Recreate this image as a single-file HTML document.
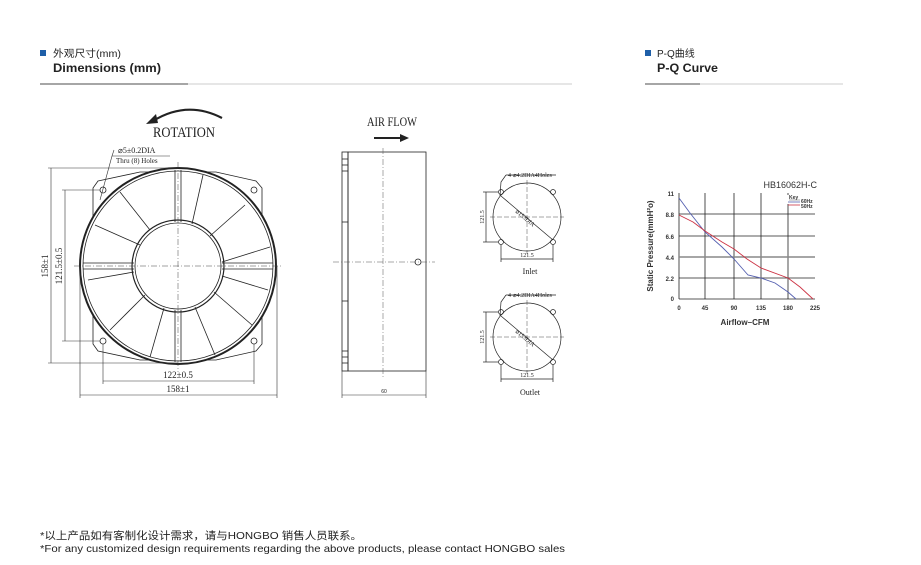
<!DOCTYPE html><html><head><meta charset="utf-8"><style>
html,body{margin:0;padding:0;background:#fff;width:921px;height:565px;overflow:hidden}
svg{display:block}
.s{font-family:"Liberation Serif",serif}
.a{font-family:"Liberation Sans","Noto Sans CJK SC",sans-serif}
</style></head><body>
<svg width="921" height="565" viewBox="0 0 921 565" xmlns="http://www.w3.org/2000/svg">
<!-- headers -->
<rect x="40" y="50" width="6" height="6" fill="#1f5fa8"/>
<text x="53" y="57" class="a" font-size="10" fill="#222" textLength="68" lengthAdjust="spacingAndGlyphs">外观尺寸(mm)</text>
<text x="53" y="72" class="a" font-size="12" font-weight="bold" fill="#222" textLength="108" lengthAdjust="spacingAndGlyphs">Dimensions (mm)</text>
<line x1="40" y1="84" x2="188" y2="84" stroke="#888" stroke-width="1.5"/>
<line x1="188" y1="84" x2="572" y2="84" stroke="#ddd" stroke-width="1.5"/>
<rect x="645" y="50" width="6" height="6" fill="#1f5fa8"/>
<text x="657" y="57" class="a" font-size="10" fill="#222">P-Q曲线</text>
<text x="657" y="72" class="a" font-size="12" font-weight="bold" fill="#222" textLength="61" lengthAdjust="spacingAndGlyphs">P-Q Curve</text>
<line x1="645" y1="84" x2="700" y2="84" stroke="#888" stroke-width="1.5"/>
<line x1="700" y1="84" x2="843" y2="84" stroke="#ddd" stroke-width="1.5"/>

<!-- front view -->
<g stroke="#222" fill="none" stroke-width="0.8">
<polygon points="98,181 140,172 216,172 256,181 262,188 262,344 256,351 216,360 140,360 98,351 93,344 93,188" fill="#fff"/>
<circle cx="178" cy="266" r="98" fill="#fff" stroke-width="2"/>
<circle cx="178" cy="266" r="95"/>
<circle cx="178" cy="266" r="46" stroke-width="1.2"/>
<circle cx="178" cy="266" r="43"/>
<line x1="175" y1="170" x2="175" y2="222"/><line x1="181" y1="170" x2="181" y2="222"/>
<line x1="175" y1="310" x2="175" y2="362"/><line x1="181" y1="310" x2="181" y2="362"/>
<line x1="83" y1="263" x2="134" y2="263"/><line x1="83" y1="269" x2="134" y2="269"/>
<line x1="222" y1="263" x2="273" y2="263"/><line x1="222" y1="269" x2="273" y2="269"/>
<line x1="150" y1="230" x2="120" y2="192"/><line x1="140" y1="245" x2="95" y2="225"/>
<line x1="192" y1="224" x2="203" y2="175"/><line x1="210" y1="236" x2="245" y2="205"/>
<line x1="222" y1="262" x2="270" y2="247" /><line x1="222" y1="276" x2="268" y2="290"/>
<line x1="214" y1="292" x2="252" y2="325"/><line x1="195" y1="307" x2="215" y2="355"/>
<line x1="164" y1="308" x2="150" y2="357"/><line x1="145" y1="295" x2="110" y2="330"/>
<line x1="134" y1="272" x2="88" y2="280"/>
<circle cx="103" cy="190" r="3"/><circle cx="254" cy="190" r="3"/>
<circle cx="103" cy="341" r="3"/><circle cx="254" cy="341" r="3"/>
</g>
<g stroke="#444" stroke-width="0.5" stroke-dasharray="6,2,1,2">
<line x1="178" y1="162" x2="178" y2="372"/><line x1="74" y1="266" x2="282" y2="266"/>
</g>
<g stroke="#333" stroke-width="0.6" fill="none">
<line x1="51" y1="168" x2="51" y2="363"/><line x1="48" y1="168" x2="178" y2="168"/><line x1="48" y1="363" x2="178" y2="363"/>
<line x1="65" y1="190" x2="65" y2="341"/><line x1="62" y1="190" x2="100" y2="190"/><line x1="62" y1="341" x2="100" y2="341"/>
<line x1="103" y1="381" x2="254" y2="381"/><line x1="103" y1="344" x2="103" y2="384"/><line x1="254" y1="344" x2="254" y2="384"/>
<line x1="80" y1="395" x2="277" y2="395"/><line x1="80" y1="266" x2="80" y2="398"/><line x1="277" y1="266" x2="277" y2="398"/>
<polyline points="114,150 112,156 100,200"/>
<line x1="112" y1="156" x2="170" y2="156"/>
<path d="M153,121 Q187,100 222,118" stroke="#222" stroke-width="2.2"/>
</g>
<polygon points="146,124 156,114 158,123" fill="#222"/>
<text x="153" y="137" class="s" font-size="15" fill="#222" textLength="62" lengthAdjust="spacingAndGlyphs">ROTATION</text>
<text x="118" y="153" class="s" font-size="8" fill="#222">⌀5±0.2DIA</text>
<text x="116" y="163" class="s" font-size="7" fill="#222">Thru (8) Holes</text>
<text class="s" font-size="9" fill="#222" transform="translate(48,266) rotate(-90)" text-anchor="middle">158±1</text>
<text class="s" font-size="9" fill="#222" transform="translate(62,266) rotate(-90)" text-anchor="middle">121.5±0.5</text>
<text x="178" y="378" class="s" font-size="9" fill="#222" text-anchor="middle">122±0.5</text>
<text x="178" y="392" class="s" font-size="9" fill="#222" text-anchor="middle">158±1</text>

<!-- side view -->
<text x="367" y="126" class="s" font-size="13" fill="#222" textLength="50" lengthAdjust="spacingAndGlyphs">AIR FLOW</text>
<line x1="374" y1="138" x2="402" y2="138" stroke="#222" stroke-width="2"/>
<polygon points="400,134 409,138 400,142" fill="#222"/>
<g stroke="#222" fill="none" stroke-width="0.8">
<rect x="348" y="152" width="78" height="219"/>
<rect x="342" y="152" width="6" height="219"/>
<line x1="342" y1="159" x2="348" y2="159"/><line x1="342" y1="165" x2="348" y2="165"/><line x1="342" y1="171" x2="348" y2="171"/>
<line x1="342" y1="222" x2="348" y2="222"/><line x1="342" y1="301" x2="348" y2="301"/>
<line x1="342" y1="351" x2="348" y2="351"/><line x1="342" y1="357" x2="348" y2="357"/><line x1="342" y1="363" x2="348" y2="363"/>
<circle cx="418" cy="262" r="3"/>
</g>
<g stroke="#555" stroke-width="0.5" stroke-dasharray="6,2,1,2">
<line x1="383" y1="148" x2="383" y2="377"/><line x1="333" y1="262" x2="435" y2="262"/>
</g>
<g stroke="#333" stroke-width="0.6"><line x1="342" y1="395" x2="426" y2="395"/><line x1="342" y1="371" x2="342" y2="398"/><line x1="426" y1="371" x2="426" y2="398"/></g>
<text x="384" y="393" class="a" font-size="5" fill="#222" text-anchor="middle">60</text>

<!-- inlet / outlet -->
<g id="io" stroke="#222" fill="none" stroke-width="0.7">
<circle cx="527" cy="217" r="34"/>
<circle cx="501" cy="192" r="2.5"/><circle cx="553" cy="192" r="2.5"/><circle cx="501" cy="242" r="2.5"/><circle cx="553" cy="242" r="2.5"/>
<line x1="501" y1="196" x2="553" y2="240"/>
<polyline points="506,175 501,182 500,196"/><line x1="506" y1="175" x2="556" y2="175"/>
<line x1="486" y1="192" x2="486" y2="242"/><line x1="483" y1="192" x2="498" y2="192"/><line x1="483" y1="242" x2="498" y2="242"/>
<line x1="501" y1="259" x2="553" y2="259"/><line x1="501" y1="245" x2="501" y2="262"/><line x1="553" y1="245" x2="553" y2="262"/>
<line x1="527" y1="180" x2="527" y2="254" stroke-width="0.4" stroke-dasharray="5,2"/><line x1="490" y1="217" x2="564" y2="217" stroke-width="0.4" stroke-dasharray="5,2"/>
</g>
<use href="#io" transform="translate(0,120)"/>
<text x="508" y="177" class="s" font-size="6" fill="#222">4-⌀4.2DIA4Holes</text>
<text x="508" y="297" class="s" font-size="6" fill="#222">4-⌀4.2DIA4Holes</text>
<text class="s" font-size="6" fill="#222" transform="translate(515,212) rotate(40)">⌀153DIA</text>
<text class="s" font-size="6" fill="#222" transform="translate(515,332) rotate(40)">⌀153DIA</text>
<text class="s" font-size="6" fill="#222" transform="translate(484,217) rotate(-90)" text-anchor="middle">121.5</text>
<text class="s" font-size="6" fill="#222" transform="translate(484,337) rotate(-90)" text-anchor="middle">121.5</text>
<text x="527" y="257" class="s" font-size="6" fill="#222" text-anchor="middle">121.5</text>
<text x="527" y="377" class="s" font-size="6" fill="#222" text-anchor="middle">121.5</text>
<text x="530" y="274" class="s" font-size="8" fill="#222" text-anchor="middle">Inlet</text>
<text x="530" y="395" class="s" font-size="8" fill="#222" text-anchor="middle">Outlet</text>

<!-- chart -->
<text x="817" y="188" class="a" font-size="9" fill="#333" text-anchor="end">HB16062H-C</text>
<g stroke="#222" stroke-width="0.8">
<line x1="679" y1="193" x2="679" y2="299"/><line x1="705" y1="193" x2="705" y2="299"/><line x1="734" y1="193" x2="734" y2="299"/>
<line x1="761" y1="193" x2="761" y2="299"/><line x1="788" y1="193" x2="788" y2="299"/>
<line x1="679" y1="299" x2="815" y2="299"/><line x1="679" y1="214" x2="815" y2="214"/><line x1="679" y1="236" x2="815" y2="236"/>
<line x1="679" y1="278" x2="815" y2="278"/>
</g>
<line x1="679" y1="257" x2="815" y2="257" stroke="#888" stroke-width="1.6"/>
<rect x="787" y="195" width="28" height="9" fill="#fff"/>
<text x="789" y="199" class="a" font-size="5" font-weight="bold" fill="#333">Key</text>
<line x1="789" y1="200" x2="800" y2="200" stroke="#333" stroke-width="0.4"/>
<text x="801" y="203" class="a" font-size="5" font-weight="bold" fill="#333">60Hz</text>
<text x="801" y="208" class="a" font-size="5" font-weight="bold" fill="#333">50Hz</text>
<line x1="788" y1="202" x2="800" y2="202" stroke="#5560b0" stroke-width="0.8"/>
<line x1="788" y1="205" x2="800" y2="205" stroke="#cc3344" stroke-width="0.8"/>
<polyline fill="none" stroke="#5560b0" stroke-width="0.9" points="679,198 690,213 705,232 722,247 734,259 748,275 761,278 775,283 788,292 796,299"/>
<polyline fill="none" stroke="#cc3344" stroke-width="0.9" points="679,215 693,222 705,231 722,242 734,249 747,259 761,268 788,278 800,287 813,299"/>
<g class="a" font-size="6" font-weight="bold" fill="#333" text-anchor="end">
<text x="674" y="196">11</text><text x="674" y="217">8.8</text><text x="674" y="239">6.6</text><text x="674" y="260">4.4</text><text x="674" y="281">2.2</text><text x="674" y="301">0</text>
</g>
<g class="a" font-size="6" font-weight="bold" fill="#333" text-anchor="middle">
<text x="679" y="310">0</text><text x="705" y="310">45</text><text x="734" y="310">90</text><text x="761" y="310">135</text><text x="788" y="310">180</text><text x="815" y="310">225</text>
</g>
<text x="745" y="325" class="a" font-size="8" font-weight="bold" fill="#333" text-anchor="middle">Airflow–CFM</text>
<text class="a" font-size="8" font-weight="bold" fill="#333" transform="translate(653,246) rotate(-90)" text-anchor="middle">Static Pressure(mmH²o)</text>

<!-- footer -->
<text x="40" y="539" class="a" font-size="10.5" fill="#222" textLength="322" lengthAdjust="spacingAndGlyphs">*以上产品如有客制化设计需求，请与HONGBO 销售人员联系。</text>
<text x="40" y="552" class="a" font-size="10.5" fill="#222" textLength="525" lengthAdjust="spacingAndGlyphs">*For any customized design requirements regarding the above products, please contact HONGBO sales</text>
</svg>
</body></html>
